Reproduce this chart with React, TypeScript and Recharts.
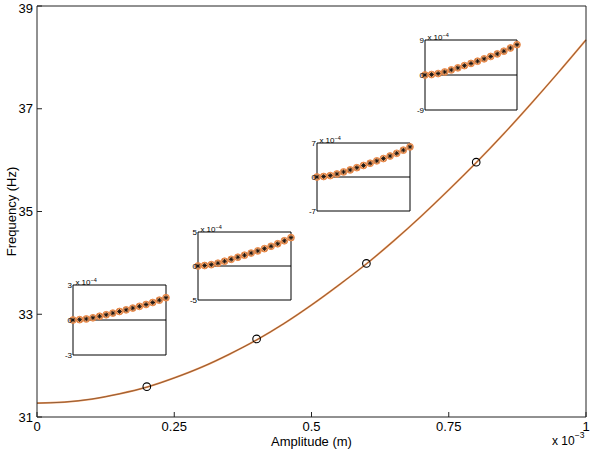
import React from "react";
import {
  ComposedChart,
  LineChart,
  Line,
  Scatter,
  XAxis,
  YAxis,
  Label,
  ReferenceArea,
  ReferenceLine,
} from "recharts";

// amplitude in units of 1e-3 m
const amplitude = [
  0, 0.05, 0.1, 0.15, 0.2, 0.25, 0.3, 0.35, 0.4, 0.45, 0.5, 0.55, 0.6, 0.65,
  0.7, 0.75, 0.8, 0.85, 0.9, 0.95, 1,
];
const frequency = [
  31.27, 31.29, 31.35, 31.45, 31.58, 31.76, 31.97, 32.22, 32.5, 32.82, 33.18,
  33.57, 33.98, 34.43, 34.91, 35.42, 35.95, 36.51, 37.1, 37.71, 38.34,
];
const sampleAmplitude = [0.2, 0.4, 0.6, 0.8];
const sampleFrequency = [31.59, 32.52, 33.99, 35.96];
const xTicks = [0, 0.25, 0.5, 0.75, 1];
const yTicks = [31, 33, 35, 37, 39];

// inset series (units of 1e-4)
const insetSteps = [0, 1, 2, 3, 4, 5, 6, 7, 8, 9, 10, 11, 12, 13, 14];
const inset1 = [0, 0.03, 0.09, 0.19, 0.32, 0.45, 0.59, 0.73, 0.87, 1.02, 1.17, 1.33, 1.5, 1.7, 1.91];
const inset2 = [0, 0.07, 0.2, 0.41, 0.7, 0.98, 1.29, 1.59, 1.9, 2.22, 2.55, 2.9, 3.27, 3.71, 4.17];
const inset3 = [0, 0.1, 0.29, 0.62, 1.04, 1.46, 1.92, 2.37, 2.83, 3.32, 3.8, 4.32, 4.88, 5.53, 6.2];
const inset4 = [0, 0.12, 0.37, 0.78, 1.31, 1.84, 2.41, 2.98, 3.55, 4.16, 4.77, 5.43, 6.12, 6.94, 7.8];
const insetLimits = [3, 5, 7, 9];

const curve = amplitude.map((a, i) => ({ a, f: frequency[i] }));
const samples = sampleAmplitude.map((a, i) => ({ a, f: sampleFrequency[i] }));

const insetLayout = [
  { left: 73, top: 285, width: 93, height: 70 },
  { left: 198, top: 232, width: 93, height: 68 },
  { left: 317, top: 143, width: 93, height: 68 },
  { left: 425, top: 40, width: 92, height: 70 },
];
const insetValues = [inset1, inset2, inset3, inset4];

const AXIS = "#222";

const renderStar = (p: any) => {
  const { cx, cy, index } = p;
  if (cx == null || cy == null) return <g key={`s${index}`} />;
  const d = 2.3;
  const e = 1.6;
  return (
    <g key={`s${index}`}>
      <circle cx={cx} cy={cy} r={3.4} fill="#f2a46c" stroke="#e27a36" strokeWidth={0.8} />
      <path
        d={`M${cx - d},${cy}H${cx + d}M${cx},${cy - d}V${cy + d}M${cx - e},${cy - e}L${cx + e},${cy + e}M${cx - e},${cy + e}L${cx + e},${cy - e}`}
        stroke="#111"
        strokeWidth={0.9}
      />
    </g>
  );
};

function Inset({ values, limit, left, top, width, height }: any) {
  const data = insetSteps.map((s, i) => ({ s, v: values[i] }));
  return (
    <div style={{ position: "absolute", left: left - 24, top: top - 10 }}>
      <LineChart
        width={width + 34}
        height={height + 20}
        data={data}
        margin={{ top: 10, right: 10, bottom: 10, left: 0 }}
      >
        <XAxis type="number" dataKey="s" domain={[0, 14]} hide />
        <YAxis
          type="number"
          domain={[-limit, limit]}
          ticks={[-limit, 0, limit]}
          width={24}
          axisLine={false}
          tickLine={false}
          tickSize={0}
          tickMargin={1}
          tick={{ fontSize: 8, fill: "#000" }}
        >
          <Label
            content={(lp: any) => {
              const vb = lp.viewBox || { x: 0, y: 10, width: 24 };
              return (
                <text x={vb.x + vb.width + 2.4} y={vb.y} fontSize={8} fill="#000">
                  x 10
                  <tspan dy={-3} fontSize={5.5}>
                    −4
                  </tspan>
                </text>
              );
            }}
          />
        </YAxis>
        <ReferenceArea
          x1={0}
          x2={14}
          y1={-limit}
          y2={limit}
          fill="none"
          stroke="#000"
          strokeWidth={1}
        />
        <ReferenceLine y={0} stroke="#000" strokeWidth={1} />
        <Line
          dataKey="v"
          stroke="none"
          dot={renderStar}
          activeDot={false}
          isAnimationActive={false}
        />
      </LineChart>
    </div>
  );
}

export default function App() {
  return (
    <div
      style={{
        position: "absolute",
        left: 0,
        top: 0,
        width: 592,
        height: 449,
        background: "#fff",
        fontFamily: '"Liberation Sans", Arial, sans-serif',
      }}
    >
      <ComposedChart width={592} height={449} margin={{ top: 5, right: 5, bottom: 0, left: 0 }}>
        <XAxis
          xAxisId="b"
          type="number"
          dataKey="a"
          domain={[0, 1]}
          ticks={xTicks}
          height={32}
          tickSize={-5}
          tickMargin={10}
          stroke={AXIS}
          tick={{ fill: "#000", fontSize: 13 }}
        >
          <Label
            content={(lp: any) => {
              const vb = lp.viewBox || { x: 37, y: 417, width: 549, height: 32 };
              return (
                <g>
                  <text x={vb.x + vb.width / 2} y={445.5} textAnchor="middle" fontSize={13} fill="#000">
                    Amplitude (m)
                  </text>
                  <text x={vb.x + vb.width - 34} y={445} fontSize={12} fill="#000">
                    x 10
                    <tspan dy={-7} fontSize={8.5}>
                      −3
                    </tspan>
                  </text>
                </g>
              );
            }}
          />
        </XAxis>
        <XAxis
          xAxisId="t"
          orientation="top"
          type="number"
          dataKey="a"
          domain={[0, 1]}
          ticks={xTicks}
          height={1}
          tickSize={-5}
          tick={false}
          stroke={AXIS}
        />
        <YAxis
          yAxisId="l"
          type="number"
          dataKey="f"
          domain={[31, 39]}
          ticks={yTicks}
          width={37}
          tickSize={-5}
          tickMargin={9}
          stroke={AXIS}
          tick={{ fill: "#000", fontSize: 13 }}
        >
          <Label
            content={(lp: any) => {
              const vb = lp.viewBox || { x: 0, y: 6, width: 37, height: 411 };
              const cy = vb.y + vb.height / 2;
              return (
                <text
                  x={16}
                  y={cy}
                  transform={`rotate(-90, 16, ${cy})`}
                  textAnchor="middle"
                  fontSize={13}
                  fill="#000"
                >
                  Frequency (Hz)
                </text>
              );
            }}
          />
        </YAxis>
        <YAxis
          yAxisId="r"
          orientation="right"
          type="number"
          dataKey="f"
          domain={[31, 39]}
          ticks={yTicks}
          width={1}
          tickSize={-5}
          tick={false}
          stroke={AXIS}
        />
        {/* invisible series so the top/right box axes are drawn */}
        <Line
          xAxisId="t"
          yAxisId="r"
          data={curve}
          dataKey="f"
          stroke="none"
          dot={false}
          activeDot={false}
          isAnimationActive={false}
        />
        <Line
          xAxisId="b"
          yAxisId="l"
          data={curve}
          dataKey="f"
          type="monotone"
          stroke="#ec8a45"
          strokeWidth={1.8}
          dot={false}
          activeDot={false}
          isAnimationActive={false}
        />
        <Line
          xAxisId="b"
          yAxisId="l"
          data={curve}
          dataKey="f"
          type="monotone"
          stroke="#333"
          strokeWidth={0.5}
          dot={false}
          activeDot={false}
          isAnimationActive={false}
        />
        <Scatter
          xAxisId="b"
          yAxisId="l"
          data={samples}
          dataKey="f"
          isAnimationActive={false}
          shape={(p: any) => (
            <circle cx={p.cx} cy={p.cy} r={3.8} fill="none" stroke="#000" strokeWidth={1.1} />
          )}
        />
      </ComposedChart>
      {insetLayout.map((box, i) => (
        <Inset key={i} values={insetValues[i]} limit={insetLimits[i]} {...box} />
      ))}
    </div>
  );
}
